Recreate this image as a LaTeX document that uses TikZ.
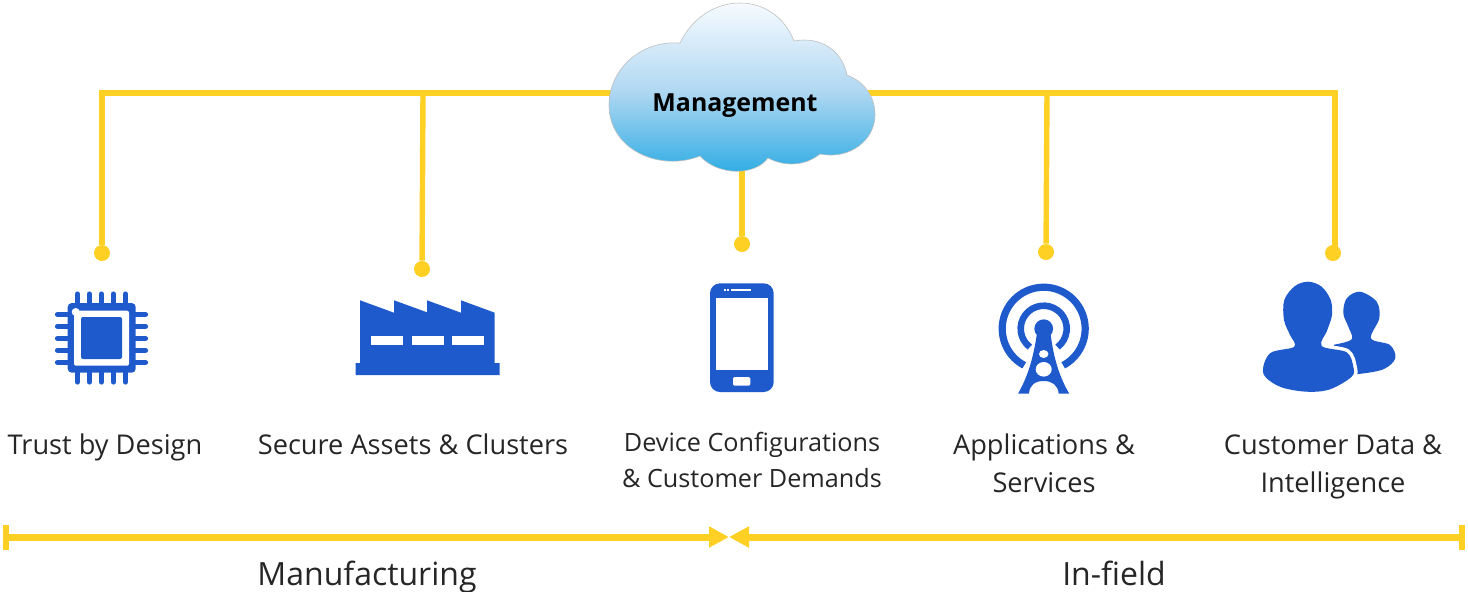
\documentclass[tikz,border=0pt]{standalone}
\usepackage{fontspec}
\setmainfont{Open Sans}
\usepackage{tikz}
\usetikzlibrary{arrows.meta, positioning}

\definecolor{wireyellow}{HTML}{FFD024}
\definecolor{iconblue}{HTML}{1F5ACD}
\definecolor{cloudtop}{HTML}{F6FBFF}
\definecolor{cloudmid}{HTML}{B2D8F2}
\definecolor{cloudlow}{HTML}{2BABE3}

\tikzset{
    wire/.style={draw=wireyellow,line width=2.7pt},
    span/.style={draw=wireyellow,line width=3.5pt},
    dotpin/.style={circle,fill=wireyellow,inner sep=0pt,minimum size=8pt},
    itemtext/.style={align=center,anchor=base,inner sep=0pt,text=black!85,font=\fontsize{13.6}{19}\selectfont},
    icon/.style={fill=iconblue,draw=none},
    chippin/.style={draw=iconblue,line width=2.6pt,line cap=round},
}

\begin{document}
\begin{tikzpicture}[x=0.5pt,y=-0.5pt]
        \useasboundingbox (0,0) rectangle (1468,591);
        % ends of the connectors
        \node[dotpin](dot_chip) at (102,253){};
        \node[dotpin](dot_fab) at (422,269){};
        \node[dotpin](dot_phone) at (742,244){};
        \node[dotpin](dot_tower) at (1046,252){};
        \node[dotpin](dot_users) at (1333,253){};
        \coordinate (bus_l) at (640,93);
        \coordinate (bus_r) at (850,93);
        \coordinate (cloud_b) at (742,150);
        \coordinate (fab_top) at (423,93);
        \coordinate (tower_top) at (1047,93);
        \coordinate (users_stem) at (1335,250);
        \draw[wire] (dot_chip) |- (bus_l);
        \draw[wire] (users_stem) |- (bus_r);
        \draw[wire] (dot_fab) -- (fab_top);
        \draw[wire] (dot_tower) -- (tower_top);
        \draw[wire] (dot_phone) -- (cloud_b);

        % cloud
        \shade[top color=cloudtop,bottom color=cloudlow,middle color=cloudmid,draw=black!25,line width=0.3pt]
            (609,105) .. controls (609,70) and (640,40) .. (680,43)
            .. controls (692,18) and (715,3) .. (740,3)
            .. controls (765,3) and (785,18) .. (794,41)
            .. controls (820,36) and (842,50) .. (847,75)
            .. controls (865,82) and (875,97) .. (875,115)
            .. controls (875,140) and (850,160) .. (820,154)
            .. controls (805,166) and (785,167) .. (768,158)
            .. controls (755,176) and (718,176) .. (700,156)
            .. controls (660,172) and (609,150) .. (609,105) -- cycle;
        \node[inner sep=0pt,anchor=base,font=\fontsize{12.45}{16}\selectfont\bfseries,text=black](mgmt) at (735,111){Management};

        % chip
        \foreach \i in {77.3,89.3,101.3,113.3,125.3}{
            \draw[chippin] (\i,294) -- (\i,304);
            \draw[chippin] (\i,372) -- (\i,382);
        }
        \foreach \i in {314.3,326.3,338.3,350.3,362.3}{
            \draw[chippin] (57.5,\i) -- (68,\i);
            \draw[chippin] (135,\i) -- (145.5,\i);
        }
        \fill[icon,rounded corners=2pt] (67.7,303) rectangle (135.7,372.7);
        \fill[white,rounded corners=1pt] (74,310.7) rectangle (129,365.7);
        \fill[white] (75.7,312) circle (2pt);
        \fill[icon,rounded corners=1pt] (81,317) rectangle (122,359);

        % factory
        \fill[icon] (355.7,375) -- (355.7,363) -- (360,363) -- (360,300.3) -- (394,312.7) -- (394,300.3)
            -- (427,312.3) -- (427,300.3) -- (461,312.7) -- (461,300.3) -- (494.7,312.7)
            -- (494.7,363) -- (499.7,363) -- (499.7,375) -- cycle;
        \foreach \a/\b in {370.7/402.7,412/444,452/484}{
            \fill[white] (\a,335.7) rectangle (\b,345);
        }

        % phone
        \fill[icon,rounded corners=5pt] (710,283.3) rectangle (773.7,392);
        \fill[white] (715.7,298.3) rectangle (768,370.3);
        \fill[white,rounded corners=0.7pt] (733,377) rectangle (750.3,385.7);
        \fill[white] (731,289) rectangle (750.7,291);
        \fill[white] (724,289) rectangle (726,291);
        \fill[white] (727,289) rectangle (729,291);

        % tower
        \draw[iconblue,line width=3.6pt] (1043.7,328.7) ++(118:41.5) arc (118:422:41.5);
        \draw[iconblue,line width=3.3pt] (1043.7,328.7) ++(127:23) arc (127:413:23);
        \fill[icon] (1043.7,328.7) circle (4.7pt);
        \fill[icon] (1036.7,335) -- (1050.7,335) .. controls (1054,360) and (1060,378) .. (1069.3,393.7)
            -- (1058.7,393.7) .. controls (1058,385) and (1052,381) .. (1043.8,381)
            .. controls (1035,381) and (1029.5,385) .. (1029,393.7)
            -- (1018,393.7) .. controls (1027,378) and (1033,360) .. (1036.7,335) -- cycle;
        \fill[white] (1043.7,354) ellipse (2.35pt and 2pt);
        \fill[white] (1043.7,369.3) ellipse (4pt and 3.65pt);

        % users
        \fill[icon] plot[smooth,tension=0.55] coordinates {(1334,344.7) (1351.7,339.3) (1348.3,326.7) (1343.3,313.3) (1346.7,298.3) (1360,291.7)
            (1376.7,301.7) (1379.3,318.3) (1371,338.3) (1390,345) (1395.3,358.3) (1383.3,369.3) (1358.3,374) (1340,374)} -- cycle;
        \path[icon,preaction={draw=white,line width=3.5pt}] plot[smooth cycle,tension=0.55] coordinates {(1294.3,346.7) (1290,335) (1284,320) (1284.3,300) (1295,286)
            (1308.3,281.7) (1321.7,286.7) (1330.7,300) (1332,315) (1327.3,330) (1321.7,346)
            (1346.7,352.3) (1353.3,366.7) (1351.7,376.7) (1330,389.3) (1306.7,391.7) (1280,386.7) (1263.3,373.3) (1270,353.3)};

        % labels
        \node[itemtext](txt_chip) at (105,454){Trust by Design};
        \node[itemtext](txt_fab) at (413,454){Secure Assets \& Clusters};
        \node[itemtext,font=\fontsize{12.6}{18}\selectfont](txt_phone) at (752,487){Device Configurations\\\& Customer Demands};
        \node[itemtext](txt_tower) at (1044,492){Applications \&\\Services};
        \node[itemtext](txt_users) at (1333,492){Customer Data \&\\Intelligence};

        % bottom spans
        \coordinate (mfg_l) at (3,537);
        \coordinate (mid_l) at (729,537);
        \coordinate (mid_r) at (729,537);
        \coordinate (fld_r) at (1465,537);
        \draw[span,{Bar[width=12.5pt,line width=3pt]}-{Triangle[length=10pt,width=10pt]}] (mfg_l) -- (mid_l);
        \draw[span,{Triangle[length=10pt,width=10pt]}-{Bar[width=12.5pt,line width=3pt]}] (mid_r) -- (fld_r);
        \node[itemtext,font=\fontsize{16}{20}\selectfont](txt_mfg) at (367,585){Manufacturing};
        \node[itemtext,font=\fontsize{16}{20}\selectfont](txt_fld) at (1114,585){In-field};
    \end{tikzpicture}
\end{document}
